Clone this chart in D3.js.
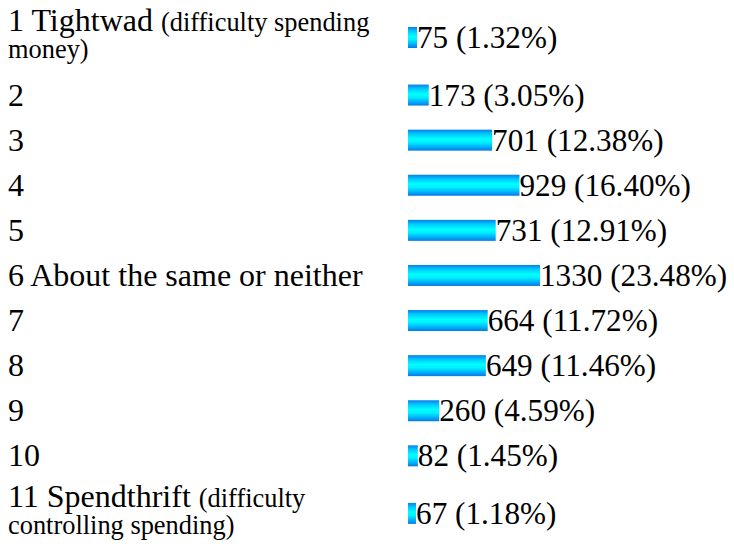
<!DOCTYPE html>
<html>
<head>
<meta charset="utf-8">
<script src="https://cdn.jsdelivr.net/npm/d3@7"></script>
<style>
  body { margin: 0; background: #fff; }
</style>
</head>
<body>
<svg id="chart" width="734" height="550"></svg>
<script>
// answer choices (big part of the label)
var categories = ["1 Tightwad", "2", "3", "4", "5", "6 About the same or neither", "7", "8", "9", "10", "11 Spendthrift"];
// the small explanation after a label, already split into its two lines
var noteLines = [["(difficulty spending", "money)"], [], [], [], [], [], [], [], [], [], ["(difficulty", "controlling spending)"]];
var counts = [75, 173, 701, 929, 731, 1330, 664, 649, 260, 82, 67];
var percents = ["1.32%", "3.05%", "12.38%", "16.40%", "12.91%", "23.48%", "11.72%", "11.46%", "4.59%", "1.45%", "1.18%"];

var FONT = "'Liberation Serif', Tinos, 'Times New Roman', Times, serif";
var bigSize = 32, smallSize = 26.4, valSize = 31.2;

var rows = categories.map(function(c, i) {
  return { cat: c, note: noteLines[i], count: counts[i], pct: percents[i] };
});

var svg = d3.select("#chart");

// gradient for the bars (blue edges, cyan middle)
var grad = svg.append("defs").append("linearGradient")
  .attr("id", "barGrad").attr("x1", 0).attr("y1", 0).attr("x2", 0).attr("y2", 1);
grad.append("stop").attr("offset", "0%").attr("stop-color", "#0a7fe8");
grad.append("stop").attr("offset", "20%").attr("stop-color", "#00c8ff");
grad.append("stop").attr("offset", "45%").attr("stop-color", "#00ffff");
grad.append("stop").attr("offset", "60%").attr("stop-color", "#00f0ff");
grad.append("stop").attr("offset", "85%").attr("stop-color", "#00a8f8");
grad.append("stop").attr("offset", "100%").attr("stop-color", "#0a78e0");

// row centres: two line rows are taller
var centers = [];
var y0 = 2.5;
rows.forEach(function(r) {
  var h = r.note.length > 1 ? 70 : 45.1;
  centers.push(y0 + h / 2);
  y0 += h;
});
var yScale = d3.scaleOrdinal().domain(categories).range(centers);

// bar length, the longest bar is cut off like in the original
var barX = 408;
var xScale = d3.scaleLinear().domain([0, 1100]).range([0, 132]).clamp(true);
var barH = 21;

var row = svg.selectAll("g.row")
  .data(rows)
  .enter()
  .append("g")
  .attr("class", "row")
  .attr("transform", function(d) { return "translate(0," + yScale(d.cat) + ")"; });

// left labels
row.each(function(d) {
  var g = d3.select(this);
  if (d.note.length > 1) {
    var t = g.append("text").attr("x", 8).attr("y", -6.5)
      .attr("font-family", FONT).attr("font-size", bigSize);
    t.append("tspan").text(d.cat + " ");
    t.append("tspan").attr("font-size", smallSize).text(d.note[0]);
    g.append("text").attr("x", 8).attr("y", 20.5)
      .attr("font-family", FONT).attr("font-size", smallSize).text(d.note[1]);
  } else {
    g.append("text").attr("x", 8).attr("y", 10.5)
      .attr("font-family", FONT).attr("font-size", bigSize).text(d.cat);
  }
});

row.append("rect")
  .attr("x", barX)
  .attr("y", -barH / 2)
  .attr("height", barH)
  .attr("width", function(d) { return xScale(d.count); })
  .attr("fill", "url(#barGrad)");

row.append("text")
  .attr("x", function(d) { return barX + xScale(d.count); })
  .attr("y", 10.5)
  .attr("font-family", FONT)
  .attr("font-size", valSize)
  .text(function(d) { return d.count + " (" + d.pct + ")"; });
</script>
</body>
</html>
